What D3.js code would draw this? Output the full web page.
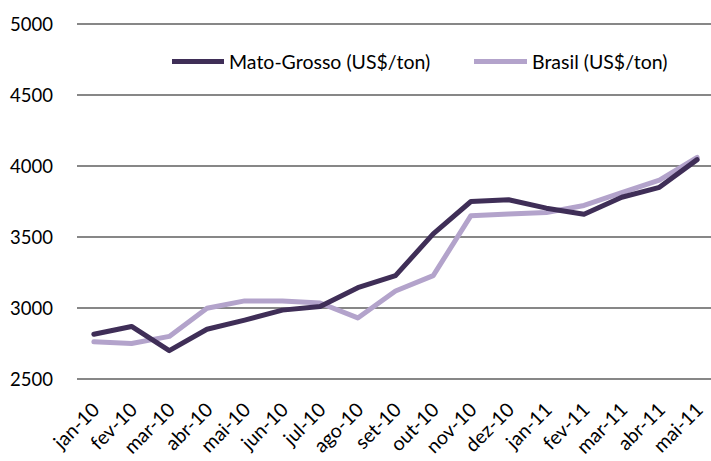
<!DOCTYPE html>
<html><head><meta charset="utf-8">
<script src="https://cdn.jsdelivr.net/npm/d3@7/dist/d3.min.js"></script>
<style>body{margin:0;background:#fff;} svg{display:block;}</style>
</head><body>
<svg id="chart" width="711" height="461"></svg>
<script>
const categories = ["jan-10","fev-10","mar-10","abr-10","mai-10","jun-10","jul-10","ago-10","set-10","out-10","nov-10","dez-10","jan-11","fev-11","mar-11","abr-11","mai-11"];
const matoGrosso = [2815,2870,2700,2850,2915,2985,3010,3143,3228,3522,3750,3762,3703,3660,3780,3850,4045];
const brasil = [2762,2750,2800,2998,3050,3050,3035,2930,3120,3228,3650,3662,3672,3722,3812,3900,4060];
const yTicks = [2500,3000,3500,4000,4500,5000];
const seriesNames = ["Mato-Grosso (US$/ton)","Brasil (US$/ton)"];
const colors = ["#3f2e57","#b3a3cb"];

const svg = d3.select("#chart");
const font = "Lato, 'Open Sans', sans-serif";
const x = d3.scalePoint().domain(categories).range([75, 716]).padding(0.5);
const y = d3.scaleLinear().domain([2500, 5000]).range([379, 24]);

// gridlines
svg.append("g").selectAll("line").data(yTicks).join("line")
  .attr("x1", 77).attr("x2", 711)
  .attr("y1", d => y(d)).attr("y2", d => y(d))
  .attr("stroke", "#878787").attr("stroke-width", 2);

// y labels
svg.append("g").selectAll("text").data(yTicks).join("text")
  .attr("x", 53).attr("y", d => y(d) + 6.5)
  .attr("text-anchor", "end")
  .attr("font-family", font).attr("font-size", 18.5).attr("fill", "#000")
  .text(d => d);

// x labels
svg.append("g").selectAll("text").data(categories).join("text")
  .attr("transform", d => `translate(${x(d) + 7},${411}) rotate(-45)`)
  .attr("text-anchor", "end")
  .attr("font-family", font).attr("font-size", 19.5).attr("fill", "#000")
  .text(d => d);

const line = d3.line().x((d, i) => x(categories[i])).y(d => y(d));
[brasil, matoGrosso].forEach((s, k) => {
  svg.append("path").datum(s)
    .attr("d", line)
    .attr("fill", "none")
    .attr("stroke", k === 0 ? colors[1] : colors[0])
    .attr("stroke-width", 5)
    .attr("stroke-linejoin", "round")
    .attr("stroke-linecap", "round");
});

// legend
const legend = [
  {name: seriesNames[0], color: colors[0], x1: 172, x2: 224, tx: 229},
  {name: seriesNames[1], color: colors[1], x1: 474, x2: 527, tx: 532}
];
const lg = svg.append("g");
legend.forEach(l => {
  lg.append("line").attr("x1", l.x1).attr("x2", l.x2).attr("y1", 61.5).attr("y2", 61.5)
    .attr("stroke", l.color).attr("stroke-width", 5);
  lg.append("text").attr("x", l.tx).attr("y", 68.5)
    .attr("font-family", font).attr("font-size", 19.5).attr("fill", "#000")
    .text(l.name);
});
</script>
</body></html>
